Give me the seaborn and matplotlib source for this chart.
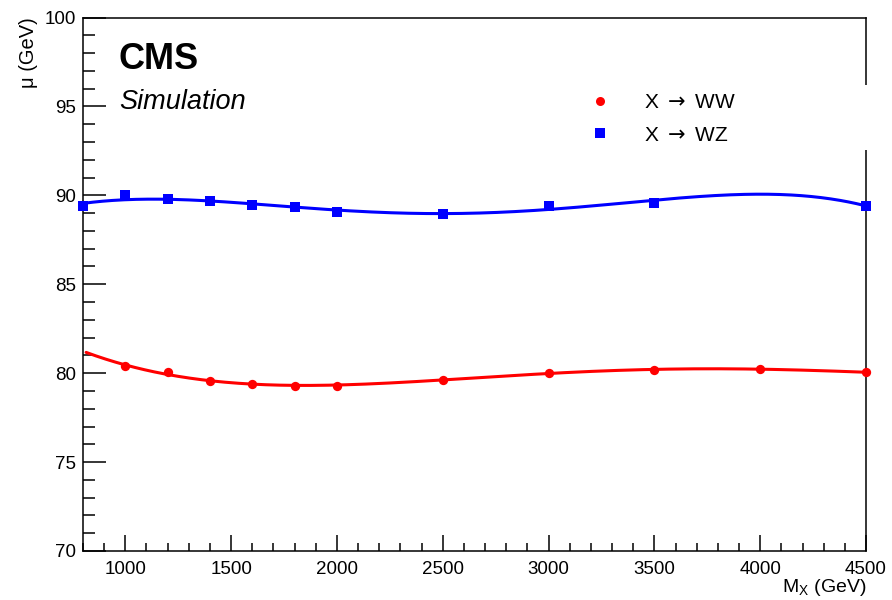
import numpy as np
import pandas as pd
import matplotlib
matplotlib.use("Agg")
import matplotlib.pyplot as plt
from matplotlib.ticker import MultipleLocator
from matplotlib.patches import Rectangle
import seaborn as sns

# Resonance mass points (GeV)
mass_ww = [1000, 1200, 1400, 1600, 1800, 2000, 2500, 3000, 3500, 4000, 4500]
mu_ww = [80.40, 80.05, 79.54, 79.39, 79.28, 79.30, 79.64, 80.03, 80.16, 80.24, 80.05]

mass_wz = [800, 1000, 1200, 1400, 1600, 1800, 2000, 2500, 3000, 3500, 4500]
mu_wz = [89.39, 90.00, 89.78, 89.69, 89.44, 89.35, 89.08, 88.95, 89.42, 89.59, 89.42]

labels = [r"X$\;\rightarrow\;$WW", r"X$\;\rightarrow\;$WZ"]
colors = ["#ff0000", "#0000ff"]
fit_degree = 4

sns.set_theme(style="ticks")
plt.rcParams["font.family"] = ["Liberation Sans", "DejaVu Sans"]
plt.rcParams["text.color"] = "black"
plt.rcParams["axes.labelcolor"] = "black"
plt.rcParams["mathtext.fontset"] = "dejavusans"

PX = 72 / 100  # points per pixel at dpi=100

fig = plt.figure(figsize=(8.92, 6.0), dpi=100)
ax = fig.add_axes([0.0930, 0.0817, 0.8779, 0.8891])

df_ww = pd.DataFrame({"mass": mass_ww, "mu": mu_ww})
df_wz = pd.DataFrame({"mass": mass_wz, "mu": mu_wz})

# polynomial fits to each set of mass points
grid_ww = np.linspace(815, 4500, 400)
grid_wz = np.linspace(800, 4500, 400)
fit_ww = np.polyval(np.polyfit(mass_ww, mu_ww, fit_degree), grid_ww)
fit_wz = np.polyval(np.polyfit(mass_wz, mu_wz, fit_degree), grid_wz)

sns.lineplot(x=grid_ww, y=fit_ww, ax=ax, color=colors[0], linewidth=2.2,
             zorder=3, legend=False)
sns.lineplot(x=grid_wz, y=fit_wz, ax=ax, color=colors[1], linewidth=2.2,
             zorder=3, legend=False)
sns.scatterplot(data=df_ww, x="mass", y="mu", ax=ax, color=colors[0],
                marker="o", s=45, linewidth=0, zorder=4, clip_on=False)
sns.scatterplot(data=df_wz, x="mass", y="mu", ax=ax, color=colors[1],
                marker="s", s=45, linewidth=0, zorder=4, clip_on=False)

ax.set_xlim(800, 4500)
ax.set_ylim(70, 100)
ax.set_xticks([1000, 1500, 2000, 2500, 3000, 3500, 4000, 4500])
ax.xaxis.set_minor_locator(MultipleLocator(100))
ax.yaxis.set_major_locator(MultipleLocator(5))
ax.yaxis.set_minor_locator(MultipleLocator(1))
ax.tick_params(axis="both", which="both", direction="in", top=False,
               right=False, labelsize=13.5, colors="black", width=1.1)
ax.tick_params(axis="x", which="major", length=16 * PX, pad=7)
ax.tick_params(axis="x", which="minor", length=8 * PX)
ax.tick_params(axis="y", which="major", length=23 * PX, pad=5)
ax.tick_params(axis="y", which="minor", length=12 * PX)
for sp in ax.spines.values():
    sp.set_linewidth(1.1)
    sp.set_color("black")

ax.set_xlabel("")
ax.set_ylabel("")
fig.text(0.9709, 0.004, r"M$_\mathregular{X}$ (GeV)", ha="right", va="bottom",
         fontsize=14)
fig.text(0.032, 0.972, "\u03bc (GeV)", rotation=90, ha="center", va="top",
         fontsize=14.5)

ax.text(0.046, 0.955, "CMS", transform=ax.transAxes, fontsize=26,
        fontweight="bold", va="top", ha="left")
ax.text(0.046, 0.866, "Simulation", transform=ax.transAxes, fontsize=19.5,
        fontstyle="italic", va="top", ha="left")

# white legend panel over the right edge
ax.add_patch(Rectangle((585 / 892, 450 / 600), 285 / 892, 65 / 600,
                       transform=fig.transFigure, facecolor="white",
                       edgecolor="none", zorder=6, clip_on=False))
handles = [
    plt.Line2D([], [], linestyle="none", marker="o", color=colors[0],
               markersize=6.5, markeredgewidth=0),
    plt.Line2D([], [], linestyle="none", marker="s", color=colors[1],
               markersize=6.5, markeredgewidth=0),
]
leg = ax.legend(handles, labels, loc="upper left",
                bbox_to_anchor=(590 / 892, 507 / 600),
                bbox_transform=fig.transFigure, frameon=False, fontsize=15,
                handlelength=1.0, handletextpad=1.6, labelspacing=0.65,
                borderaxespad=0, borderpad=0)
leg.set_zorder(7)

fig.savefig("out.png", dpi=100)
